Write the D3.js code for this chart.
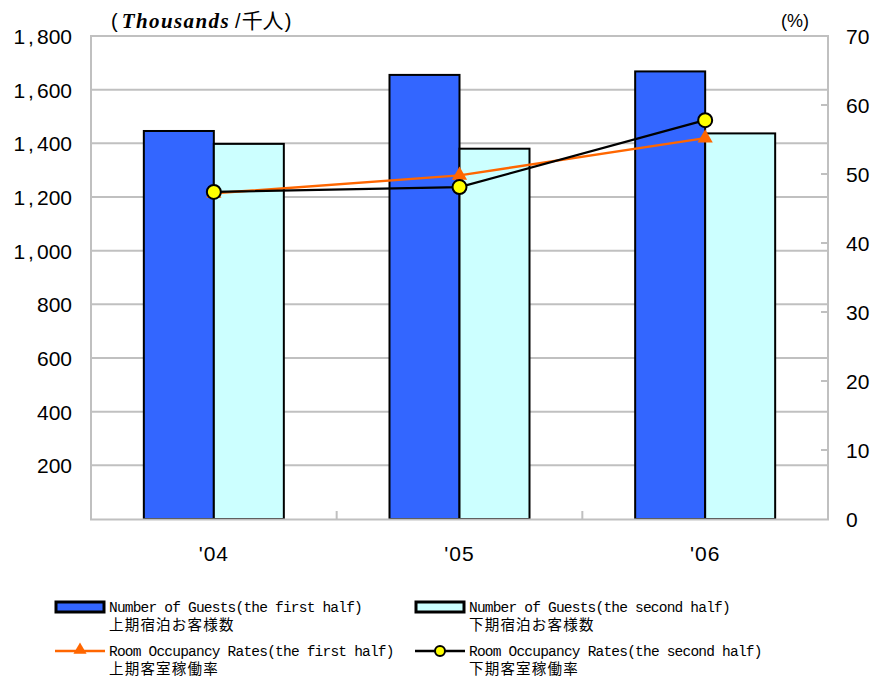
<!DOCTYPE html>
<html><head><meta charset="utf-8">
<script src="https://cdn.jsdelivr.net/npm/d3@7"></script>
<style>body{margin:0;background:#fff}svg{display:block}</style>
</head><body>
<svg id="c" width="874" height="677"></svg>
<script>
const categories = ["'04", "'05", "'06"];
const guestsFirst = [1446, 1655, 1668];
const guestsSecond = [1398, 1380, 1437];
const rateFirst = [47.2, 49.8, 55.2];
const rateSecond = [47.4, 48.1, 57.8];
const leftTicks = [200, 400, 600, 800, 1000, 1200, 1400, 1600, 1800];
const rightTicks = [0, 10, 20, 30, 40, 50, 60, 70];

const svg = d3.select("#c");
const L = 91, R = 828, T = 36, B = 519;
const grid = "#C0C0C0";
const sans = "Liberation Sans, Arial, sans-serif";

const x = d3.scaleBand().domain(categories).range([L, R]);
const yL = d3.scaleLinear().domain([0, 1800]).range([B, T]);
const yR = d3.scaleLinear().domain([0, 70]).range([B, T]);
const barW = 70;

// gridlines
svg.append("g").selectAll("line").data(leftTicks).join("line")
  .attr("x1", L).attr("x2", R).attr("y1", d => yL(d)).attr("y2", d => yL(d))
  .attr("stroke", grid).attr("stroke-width", 2);

// axes frame
svg.append("line").attr("x1", L).attr("x2", L).attr("y1", T - 1).attr("y2", B + 1).attr("stroke", grid).attr("stroke-width", 2);
svg.append("line").attr("x1", R).attr("x2", R).attr("y1", T - 1).attr("y2", B + 1).attr("stroke", grid).attr("stroke-width", 2);

// right axis small ticks
svg.append("g").selectAll("line").data(rightTicks.filter(d => d > 0 && d < 70)).join("line")
  .attr("x1", R - 7).attr("x2", R).attr("y1", d => yR(d)).attr("y2", d => yR(d))
  .attr("stroke", grid).attr("stroke-width", 2);
// bottom category boundary ticks
svg.append("g").selectAll("line").data(categories.slice(1)).join("line")
  .attr("x1", d => x(d)).attr("x2", d => x(d)).attr("y1", B - 8).attr("y2", B)
  .attr("stroke", grid).attr("stroke-width", 2);

// left labels (wide comma spacing as in reference)
const ll = svg.append("g").selectAll("text").data(leftTicks).join("text")
  .attr("x", 72).attr("y", d => yL(d) + 8).attr("text-anchor", "end")
  .attr("font-family", sans).attr("font-size", 21).attr("fill", "#000");
ll.each(function(d) {
  const s = d3.format(",")(d);
  const t = d3.select(this);
  if (s.includes(",")) {
    const [a, b] = s.split(",");
    t.append("tspan").text(a);
    t.append("tspan").attr("dx", 3).text(",");
    t.append("tspan").attr("dx", 3).text(b);
  } else t.text(s);
});
// right labels
svg.append("g").selectAll("text").data(rightTicks).join("text")
  .attr("x", 846).attr("y", d => yR(d) + 8).attr("text-anchor", "start")
  .attr("font-family", sans).attr("font-size", 21).attr("fill", "#000")
  .text(d => d);
// x labels
svg.append("g").selectAll("text").data(categories).join("text")
  .attr("x", d => x(d) + x.bandwidth() / 2).attr("y", 561).attr("text-anchor", "middle")
  .attr("font-family", sans).attr("font-size", 21).attr("fill", "#000")
  .attr("letter-spacing", 1)
  .text(d => d);

// bars
svg.append("g").selectAll("rect").data(categories).join("rect")
  .attr("x", d => x(d) + x.bandwidth() / 2 - barW).attr("width", barW)
  .attr("y", (d, i) => yL(guestsFirst[i])).attr("height", (d, i) => B - yL(guestsFirst[i]))
  .attr("fill", "#3366FF").attr("stroke", "#000").attr("stroke-width", 2);
svg.append("g").selectAll("rect").data(categories).join("rect")
  .attr("x", d => x(d) + x.bandwidth() / 2).attr("width", barW)
  .attr("y", (d, i) => yL(guestsSecond[i])).attr("height", (d, i) => B - yL(guestsSecond[i]))
  .attr("fill", "#CCFFFF").attr("stroke", "#000").attr("stroke-width", 2);
// bottom axis over bar bottoms
svg.append("line").attr("x1", L - 1).attr("x2", R + 1).attr("y1", B + 0.5).attr("y2", B + 0.5).attr("stroke", grid).attr("stroke-width", 2);

const cx = d => x(d) + x.bandwidth() / 2;
const tri = d3.symbol().type(d3.symbolTriangle).size(100);

// orange line
svg.append("path").datum(rateFirst)
  .attr("d", d3.line().x((d, i) => cx(categories[i])).y(d => yR(d)))
  .attr("fill", "none").attr("stroke", "#FF6600").attr("stroke-width", 2.5);
svg.append("g").selectAll("path").data(rateFirst).join("path")
  .attr("d", tri).attr("transform", (d, i) => `translate(${cx(categories[i])},${yR(d)})`)
  .attr("fill", "#FF6600");
// black line
svg.append("path").datum(rateSecond)
  .attr("d", d3.line().x((d, i) => cx(categories[i])).y(d => yR(d)))
  .attr("fill", "none").attr("stroke", "#000").attr("stroke-width", 2.2);
svg.append("g").selectAll("circle").data(rateSecond).join("circle")
  .attr("cx", (d, i) => cx(categories[i])).attr("cy", d => yR(d)).attr("r", 7)
  .attr("fill", "#FFFF00").attr("stroke", "#000").attr("stroke-width", 2);

// titles
const t1 = svg.append("text").attr("x", 111).attr("y", 28).attr("font-size", 20).attr("fill", "#000")
  .attr("font-family", sans);
t1.append("tspan").text("(");
t1.append("tspan").attr("font-family", "Liberation Serif, Times New Roman, serif").attr("font-weight", "bold")
  .attr("font-style", "italic").attr("font-size", 21).attr("dx", 4)
  .attr("textLength", 107).attr("lengthAdjust", "spacing").text("Thousands");
t1.append("tspan").attr("dx", 5).text("/");
t1.append("tspan").attr("font-family", "Noto Sans CJK JP, sans-serif").attr("font-size", 21).attr("dx", 1).text("千人");
t1.append("tspan").attr("dx", 1).text(")");
svg.append("text").attr("x", 795).attr("y", 27).attr("text-anchor", "middle")
  .attr("font-family", sans).attr("font-size", 18).attr("fill", "#000").text("(%)");

// legend
const legend = [
  {type: "bar", fill: "#3366FF", en: "Number of Guests(the first half)", ja: "上期宿泊お客様数", x: 55, y: 607},
  {type: "bar", fill: "#CCFFFF", en: "Number of Guests(the second half)", ja: "下期宿泊お客様数", x: 415, y: 607},
  {type: "tri", color: "#FF6600", en: "Room Occupancy Rates(the first half)", ja: "上期客室稼働率", x: 55, y: 651},
  {type: "circ", color: "#000", en: "Room Occupancy Rates(the second half)", ja: "下期客室稼働率", x: 415, y: 651}
];
const lg = svg.append("g").selectAll("g").data(legend).join("g")
  .attr("transform", d => `translate(${d.x},${d.y})`);
lg.filter(d => d.type === "bar").append("rect")
  .attr("x", 1).attr("y", -5).attr("width", 48).attr("height", 10)
  .attr("fill", d => d.fill).attr("stroke", "#000").attr("stroke-width", 3);
lg.filter(d => d.type !== "bar").append("line")
  .attr("x1", 0).attr("x2", 50).attr("y1", 0).attr("y2", 0)
  .attr("stroke", d => d.color).attr("stroke-width", 2.5);
lg.filter(d => d.type === "tri").append("path")
  .attr("d", d3.symbol().type(d3.symbolTriangle).size(75)).attr("transform", "translate(25,-1)").attr("fill", "#FF6600");
lg.filter(d => d.type === "circ").append("circle")
  .attr("cx", 25).attr("cy", 0).attr("r", 5).attr("fill", "#FFFF00").attr("stroke", "#000").attr("stroke-width", 2);
lg.append("text").attr("x", 54).attr("y", 5)
  .attr("font-family", "Liberation Mono, DejaVu Sans Mono, monospace").attr("font-size", 14.5).attr("fill", "#000")
  .attr("textLength", d => d.en.length * 7.93).attr("lengthAdjust", "spacing")
  .text(d => d.en);
lg.append("text").attr("x", 54).attr("y", 22.5)
  .attr("font-family", "Noto Sans CJK JP, sans-serif").attr("font-size", 14.5).attr("fill", "#000")
  .attr("letter-spacing", 1.2)
  .text(d => d.ja);
</script>
</body></html>
